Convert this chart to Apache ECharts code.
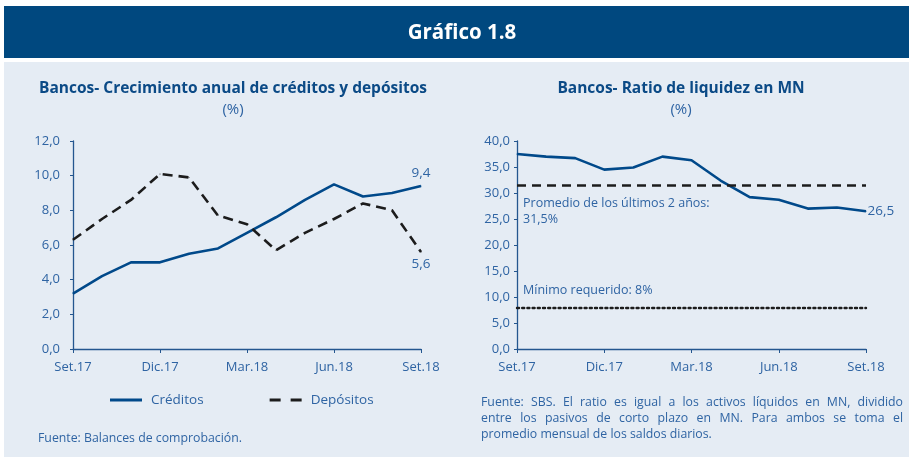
<!DOCTYPE html>
<html>
<head>
<meta charset="utf-8">
<script src="https://cdn.jsdelivr.net/npm/echarts@6/dist/echarts.min.js"></script>
<style>
html,body{margin:0;padding:0;background:#fff;}
#c{width:909px;height:457px;}
</style>
</head>
<body>
<div id="c"></div>
<script>
const categories = ['Set.17','Oct.17','Nov.17','Dic.17','Ene.18','Feb.18','Mar.18','Abr.18','May.18','Jun.18','Jul.18','Ago.18','Set.18'];
const creditos = [3.2,4.2,5.0,5.0,5.5,5.8,6.7,7.6,8.6,9.5,8.8,9.0,9.4];
const depositos = [6.3,7.5,8.6,10.1,9.9,7.7,7.2,5.7,6.7,7.5,8.4,8.0,5.6];
const ratio = [37.5,37.0,36.7,34.5,34.9,37.0,36.3,32.4,29.2,28.7,27.0,27.2,26.5];
const promedio = 31.5;
const minimo = 8;
const leftAxis = {min:0, max:12, interval:2};
const rightAxis = {min:0, max:40, interval:5};

const FONT = '"Open Sans", "Noto Sans", sans-serif';
const BLUE = '#00498a';
const LBL = '#2f64a3';
const AX = '#24568f';
const fmt = v => Number(v).toFixed(1).replace('.', ',');
const last = categories.length - 1;

const chart = echarts.init(document.getElementById('c'), null, {renderer:'canvas'});

const cv = document.createElement('canvas').getContext('2d');
function justified(text, x, y, width, size, color){
  cv.font = size + 'px ' + FONT;
  const words = text.split(' ');
  const total = words.reduce((s,w)=>s+cv.measureText(w).width,0);
  const gap = (width - total)/(words.length-1);
  let cx = x; const out = [];
  words.forEach(w=>{
    out.push({type:'text', left:cx, top:y, style:{text:w, fill:color, font:size+'px '+FONT}});
    cx += cv.measureText(w).width + gap;
  });
  return out;
}

function xAxisCfg(gi){
  return {
    type:'category', gridIndex:gi, data:categories, boundaryGap:false,
    axisLine:{lineStyle:{color:AX, width:1.3}},
    axisTick:{interval:2, length:4, lineStyle:{color:AX}},
    axisLabel:{interval:2, color:LBL, fontSize:13, fontFamily:FONT, margin:12},
    splitLine:{show:false}
  };
}
function yAxisCfg(gi, a, margin){
  return {
    type:'value', gridIndex:gi, min:a.min, max:a.max, interval:a.interval,
    axisLine:{show:true, lineStyle:{color:AX, width:1.3}},
    axisTick:{show:true, length:3, lineStyle:{color:AX}},
    axisLabel:{color:LBL, fontSize:13, fontFamily:FONT, margin:margin, formatter:v=>fmt(v)},
    splitLine:{show:false}
  };
}

const graphics = [
  {type:'rect', shape:{x:4, y:6, width:905, height:52}, style:{fill:'#00487f'}, z:-10},
  {type:'rect', shape:{x:4, y:62, width:905, height:395}, style:{fill:'#e5ecf4'}, z:-10},
  {type:'text', x:462, y:33, style:{text:'Gráfico 1.8', fill:'#fff', font:'bold 20.5px '+FONT, align:'center', verticalAlign:'middle'}},
  {type:'text', x:233, y:89, style:{text:'Bancos- Crecimiento anual de créditos y depósitos', fill:'#0b4a86', font:'bold 15.5px '+FONT, align:'center', verticalAlign:'middle'}},
  {type:'text', x:233, y:110, style:{text:'(%)', fill:LBL, font:'15px '+FONT, align:'center', verticalAlign:'middle'}},
  {type:'text', x:681, y:89, style:{text:'Bancos- Ratio de liquidez en MN', fill:'#0b4a86', font:'bold 15.5px '+FONT, align:'center', verticalAlign:'middle'}},
  {type:'text', x:681, y:110, style:{text:'(%)', fill:LBL, font:'15px '+FONT, align:'center', verticalAlign:'middle'}},
  {type:'text', x:38, y:438, style:{text:'Fuente: Balances de comprobación.', fill:LBL, font:'12.3px '+FONT, verticalAlign:'middle'}}
].concat(
  justified('Fuente: SBS. El ratio es igual a los activos líquidos en MN, dividido', 481, 396, 422, 12.3, LBL),
  justified('entre los pasivos de corto plazo en MN. Para ambos se toma el', 481, 412, 422, 12.3, LBL),
  [{type:'text', left:481, top:428, style:{text:'promedio mensual de los saldos diarios.', fill:LBL, font:'12.3px '+FONT}}]
);

const option = {
  animation:false,
  backgroundColor:'transparent',
  textStyle:{fontFamily:FONT},
  graphic:graphics,
  legend:{
    data:[
      {name:'Créditos', icon:'rect'},
      {name:'Depósitos', icon:'path://M0,0h11v3h-11z M21,0h11v3h-11z'}
    ],
    left:105, top:388, itemWidth:32, itemHeight:3, itemGap:66,
    textStyle:{color:LBL, fontSize:13.5, fontFamily:FONT, padding:[0,0,0,4]}
  },
  grid:[
    {left:73, right:488, top:141, bottom:108},
    {left:517, right:43, top:141, bottom:108}
  ],
  xAxis:[xAxisCfg(0), xAxisCfg(1)],
  yAxis:[yAxisCfg(0, leftAxis, 13), yAxisCfg(1, rightAxis, 7)],
  series:[
    {
      name:'Créditos', type:'line', xAxisIndex:0, yAxisIndex:0, data:creditos,
      symbol:'circle', symbolSize:1, showSymbol:true,
      lineStyle:{color:BLUE, width:2.6}, itemStyle:{color:BLUE},
      label:{show:true, position:'top', distance:5, color:LBL, fontSize:13.5, fontFamily:FONT,
        formatter:p=>p.dataIndex===last?fmt(p.value):''}
    },
    {
      name:'Depósitos', type:'line', xAxisIndex:0, yAxisIndex:0, data:depositos,
      symbol:'circle', symbolSize:1, showSymbol:true,
      lineStyle:{color:'#1c1c1c', width:2.6, type:[10,6]}, itemStyle:{color:'#1c1c1c'},
      label:{show:true, position:'bottom', distance:5, color:LBL, fontSize:13.5, fontFamily:FONT,
        formatter:p=>p.dataIndex===last?fmt(p.value):''}
    },
    {
      name:'Ratio', type:'line', xAxisIndex:1, yAxisIndex:1, data:ratio,
      symbol:'circle', symbolSize:1, showSymbol:true,
      lineStyle:{color:BLUE, width:2.6}, itemStyle:{color:BLUE},
      label:{show:true, position:'right', distance:1, color:LBL, fontSize:13.5, fontFamily:FONT,
        formatter:p=>p.dataIndex===last?fmt(p.value):''},
      markLine:{
        silent:true, symbol:'none', animation:false,
        data:[
          {yAxis:promedio, lineStyle:{color:'#1c1c1c', width:2.6, type:[9,6]},
            label:{show:true, position:'insideStartBottom', formatter:'Promedio de los últimos 2 años:\n' + fmt(promedio) + '%',
              color:LBL, fontSize:12.5, fontFamily:FONT, lineHeight:16, distance:[6,10], align:'left'}},
          {yAxis:minimo, lineStyle:{color:'#1c1c1c', width:2.4, type:[2,3.2], cap:'round'},
            label:{show:true, position:'insideStartTop', formatter:'Mínimo requerido: ' + minimo + '%',
              color:LBL, fontSize:12.5, fontFamily:FONT, distance:[6,10], align:'left'}}
        ]
      }
    }
  ]
};
chart.setOption(option);
</script>
</body>
</html>
